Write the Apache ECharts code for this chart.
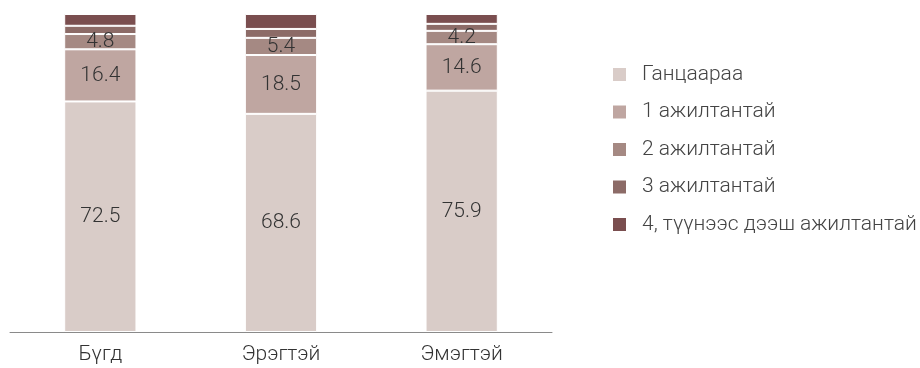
<!DOCTYPE html>
<html><head><meta charset="utf-8">
<script src="https://cdn.jsdelivr.net/npm/echarts@6/dist/echarts.min.js"></script>
<style>html,body{margin:0;padding:0;background:#fff}#c{width:920px;height:368px}</style>
</head><body><div id="c"></div>
<script>
const categories = ['Бүгд', 'Эрэгтэй', 'Эмэгтэй'];
const seriesNames = ['Ганцаараа', '1 ажилтантай', '2 ажилтантай', '3 ажилтантай', '4, түүнээс дээш ажилтантай'];
const alone = [72.5, 68.6, 75.9];
const emp1 = [16.4, 18.5, 14.6];
const emp2 = [4.8, 5.4, 4.2];
const emp3 = [2.6, 2.8, 2.2];
const emp4 = [3.7, 4.7, 3.1];
const colors = ['#d9ccc8', '#bfa6a1', '#a58983', '#8c6b67', '#7a4e4f'];
const values = [alone, emp1, emp2, emp3, emp4];
const showLabel = [true, true, true, false, false];

const chart = echarts.init(document.getElementById('c'));
chart.setOption({
  animation: false,
  textStyle: {fontFamily: 'Roboto'},
  grid: {left: 10, right: 368, top: 14, bottom: 36},
  legend: {
    orient: 'vertical', left: 606, top: 59,
    itemWidth: 15, itemHeight: 15, itemGap: 16.5,
    icon: 'rect',
    textStyle: {fontSize: 21, color: '#444', fontFamily: 'Roboto', fontWeight: 300, padding: [0, 0, 0, 10]},
    data: seriesNames
  },
  xAxis: {
    type: 'category', data: categories,
    axisLine: {lineStyle: {color: '#8a8a8a'}},
    axisTick: {length: 6, lineStyle: {color: '#8a8a8a'}},
    axisLabel: {fontSize: 21, color: '#333', fontWeight: 300, margin: 12}
  },
  yAxis: {type: 'value', min: 0, max: 100, show: false},
  series: seriesNames.map((n, i) => ({
    name: n, type: 'bar', stack: 'a', barWidth: '40%',
    data: values[i],
    itemStyle: {color: colors[i], borderColor: '#fff', borderWidth: 1},
    label: {show: showLabel[i], position: 'inside', color: '#333', fontSize: 21, fontWeight: 300}
  }))
});
</script></body></html>
